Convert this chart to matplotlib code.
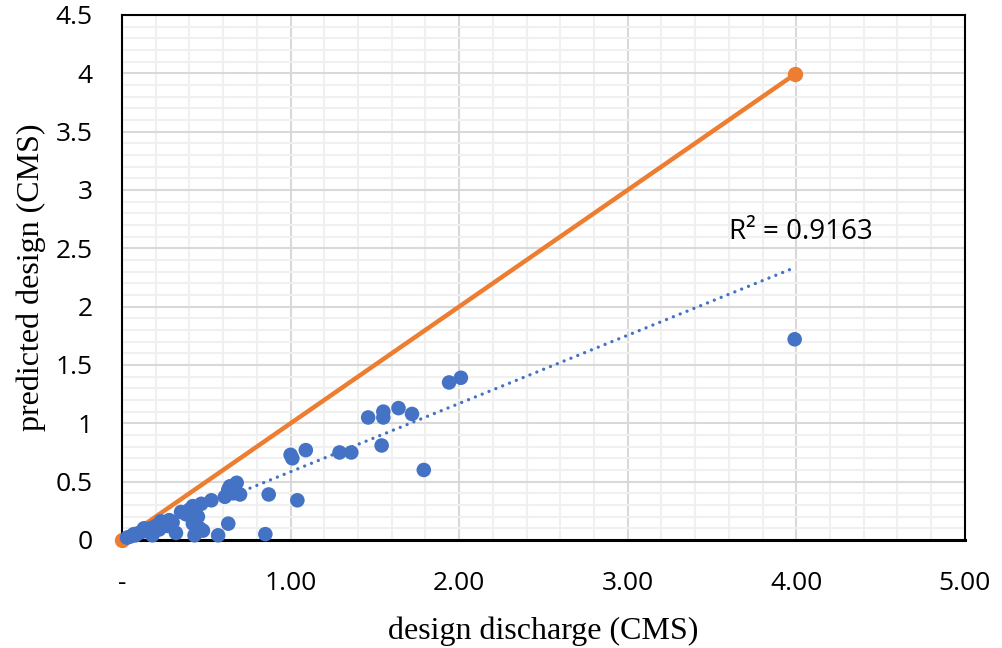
import numpy as np
import matplotlib
matplotlib.use("Agg")
from matplotlib import pyplot as plt
from matplotlib.ticker import MultipleLocator, FixedLocator

# observed design discharge vs predicted (CMS)
design_q = [0.03, 0.05, 0.07, 0.08, 0.10, 0.12, 0.13, 0.15, 0.17, 0.18,
            0.20, 0.22, 0.23, 0.25, 0.27, 0.28, 0.30, 0.32, 0.35, 0.38,
            0.40, 0.42, 0.42, 0.43, 0.45, 0.46, 0.47, 0.48, 0.53, 0.57,
            0.61, 0.63, 0.63, 0.64, 0.66, 0.68, 0.70, 0.85, 0.87, 1.00,
            1.01, 1.04, 1.09, 1.29, 1.36, 1.46, 1.54, 1.55, 1.55, 1.64,
            1.72, 1.79, 1.94, 2.01, 3.99]
pred_q = [0.02, 0.03, 0.05, 0.04, 0.06, 0.07, 0.10, 0.08, 0.10, 0.04,
          0.12, 0.09, 0.16, 0.14, 0.12, 0.17, 0.15, 0.06, 0.24, 0.22,
          0.26, 0.29, 0.14, 0.04, 0.20, 0.10, 0.31, 0.08, 0.34, 0.04,
          0.37, 0.14, 0.43, 0.46, 0.40, 0.49, 0.39, 0.05, 0.39, 0.73,
          0.70, 0.34, 0.77, 0.75, 0.75, 1.05, 0.81, 1.05, 1.10, 1.13,
          1.08, 0.60, 1.35, 1.39, 1.72]

# 1:1 line end points
line_x = [0.0, 3.99]
line_y = [0.0, 3.99]

# linear trendline as shown on the chart
trend_slope = 0.585
trend_intercept = 0.0
r2_text = "R² = 0.9163"

x_ticks = [0, 1, 2, 3, 4, 5]
x_labels = ["-", "1.00", "2.00", "3.00", "4.00", "5.00"]
y_ticks = [0, 0.5, 1, 1.5, 2, 2.5, 3, 3.5, 4, 4.5]
y_labels = ["0", "0.5", "1", "1.5", "2", "2.5", "3", "3.5", "4", "4.5"]

blue = "#4472C4"
orange = "#ED7D31"

fig = plt.figure(figsize=(10.02, 6.48), dpi=100)
ax = fig.add_axes([0.1218, 0.1667, 0.8412, 0.8103])

ax.plot(line_x, line_y, color=orange, lw=3.2, marker="o", ms=10,
        zorder=2, clip_on=False)
ax.scatter(design_q, pred_q, s=110, color=blue, edgecolors="none",
           zorder=3, clip_on=False)

tx = np.array([min(design_q), max(design_q)])
ax.plot(tx, trend_slope * tx + trend_intercept, color=blue, lw=2.4,
        linestyle=(0, (0.01, 2.2)), dash_capstyle="round", zorder=4)
ax.text(3.6, 2.64, r2_text, fontsize=20, family="Open Sans", va="center", zorder=5)

ax.set_xlim(0, 5)
ax.set_ylim(0, 4.5)
ax.xaxis.set_major_locator(FixedLocator(x_ticks))
ax.yaxis.set_major_locator(FixedLocator(y_ticks))
ax.set_xticklabels(x_labels, family="Open Sans", fontsize=19)
ax.set_yticklabels(y_labels, family="Open Sans", fontsize=19)
ax.xaxis.set_minor_locator(MultipleLocator(0.2))
ax.yaxis.set_minor_locator(MultipleLocator(0.1))
ax.tick_params(which="both", length=0)
ax.tick_params(axis="x", pad=22)
ax.tick_params(axis="y", pad=21)
ax.grid(which="major", color="#d9d9d9", lw=1.5, zorder=0)
ax.grid(which="minor", color="#f0f0f0", lw=1.5, zorder=0)
ax.set_axisbelow(True)
for s in ax.spines.values():
    s.set_color("black")
    s.set_linewidth(1.5)
ax.spines["bottom"].set_linewidth(2.2)

ax.set_xlabel("design discharge (CMS)", family="Liberation Serif", fontsize=23, labelpad=15)
ax.set_ylabel("predicted design (CMS)", family="Liberation Serif", fontsize=23, labelpad=7)

fig.savefig("out.png", dpi=100)
